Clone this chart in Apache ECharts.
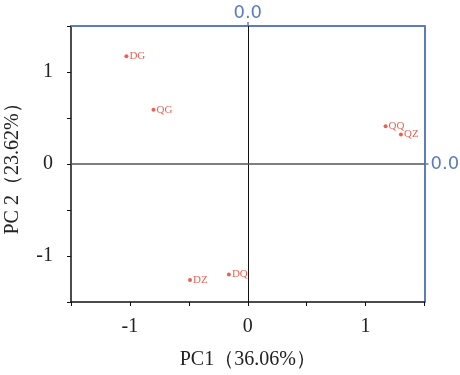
<!DOCTYPE html>
<html><head><meta charset="utf-8">
<script src="https://cdn.jsdelivr.net/npm/echarts@6/dist/echarts.min.js"></script>
<style>html,body{margin:0;padding:0;background:#fff}#c{width:460px;height:375px}</style>
</head><body><div id="c"></div>
<script>
const names = ['DG','QG','QQ','QZ','DZ','DQ'];
const pc1 = [-1.03,-0.80,1.17,1.30,-0.49,-0.16];
const pc2 = [1.17,0.59,0.41,0.32,-1.26,-1.20];
const xName = 'PC1（36.06%）';
const yName = 'PC 2（23.62%）';
const secLabel = '0.0';
const secTicks = [0];

const serif = '"Liberation Serif","Times New Roman",serif';
const sans = '"DejaVu Sans",sans-serif';
const blue = '#5c7cc0';
const red = '#e63a26';
const chart = echarts.init(document.getElementById('c'));
const intFmt = v => (Math.abs(v - Math.round(v)) < 1e-9 ? String(Math.round(v)) : '');
const secFmt = v => (Math.abs(v) < 1e-9 ? secLabel : '');
chart.setOption({
  animation:false,
  grid:{left:71,right:35.5,top:26,bottom:73,outerBoundsMode:'none',containLabel:false},
  xAxis:[{
    type:'value',position:'bottom',min:-1.5,max:1.5,interval:0.5,
    axisLine:{onZero:false,lineStyle:{color:'#111',width:1.5}},
    axisTick:{inside:false,length:4,lineStyle:{color:'#111'}},
    axisLabel:{formatter:intFmt,fontFamily:serif,fontSize:20,color:'#222',margin:15},
    splitLine:{show:false},
    name:xName,nameLocation:'middle',nameGap:48,
    nameTextStyle:{fontFamily:serif,fontSize:20,color:'#222'}
  },{
    type:'value',position:'top',min:-1.5,max:1.5,interval:1.5,
    axisLine:{onZero:false,lineStyle:{color:blue,width:2}},
    axisTick:{length:4,customValues:secTicks,lineStyle:{color:blue,width:1.5}},
    axisLabel:{formatter:secFmt,customValues:secTicks,fontFamily:sans,fontSize:18,color:blue,margin:4},
    splitLine:{show:false}
  }],
  yAxis:[{
    type:'value',position:'left',min:-1.5,max:1.5,interval:0.5,
    axisLine:{onZero:false,lineStyle:{color:'#111',width:1.5}},
    axisTick:{length:4,lineStyle:{color:'#111'}},
    axisLabel:{formatter:intFmt,fontFamily:serif,fontSize:20,color:'#222',margin:18},
    splitLine:{show:false},
    name:yName,nameLocation:'middle',nameGap:48,
    nameTextStyle:{fontFamily:serif,fontSize:20,color:'#222'}
  },{
    type:'value',position:'right',min:-1.5,max:1.5,interval:1.5,
    axisLine:{onZero:false,lineStyle:{color:blue,width:2}},
    axisTick:{length:4,customValues:secTicks,lineStyle:{color:blue,width:1.5}},
    axisLabel:{formatter:secFmt,customValues:secTicks,fontFamily:sans,fontSize:18,color:blue,margin:6},
    splitLine:{show:false}
  }],
  series:[{
    type:'scatter',xAxisIndex:0,yAxisIndex:0,
    symbol:'circle',symbolSize:4,
    itemStyle:{color:red},
    data:names.map((n,i)=>({name:n,value:[pc1[i],pc2[i]]})),
    label:{show:true,position:'right',distance:1,formatter:'{b}',fontFamily:serif,fontSize:11,color:red},
    markLine:{
      silent:true,symbol:'none',label:{show:false},
      data:[
        {xAxis:0,lineStyle:{color:'#111',width:1,type:'solid'}},
        {yAxis:0,lineStyle:{color:'#555',width:1.5,type:'solid'}}
      ]
    }
  }]
});
</script></body></html>
